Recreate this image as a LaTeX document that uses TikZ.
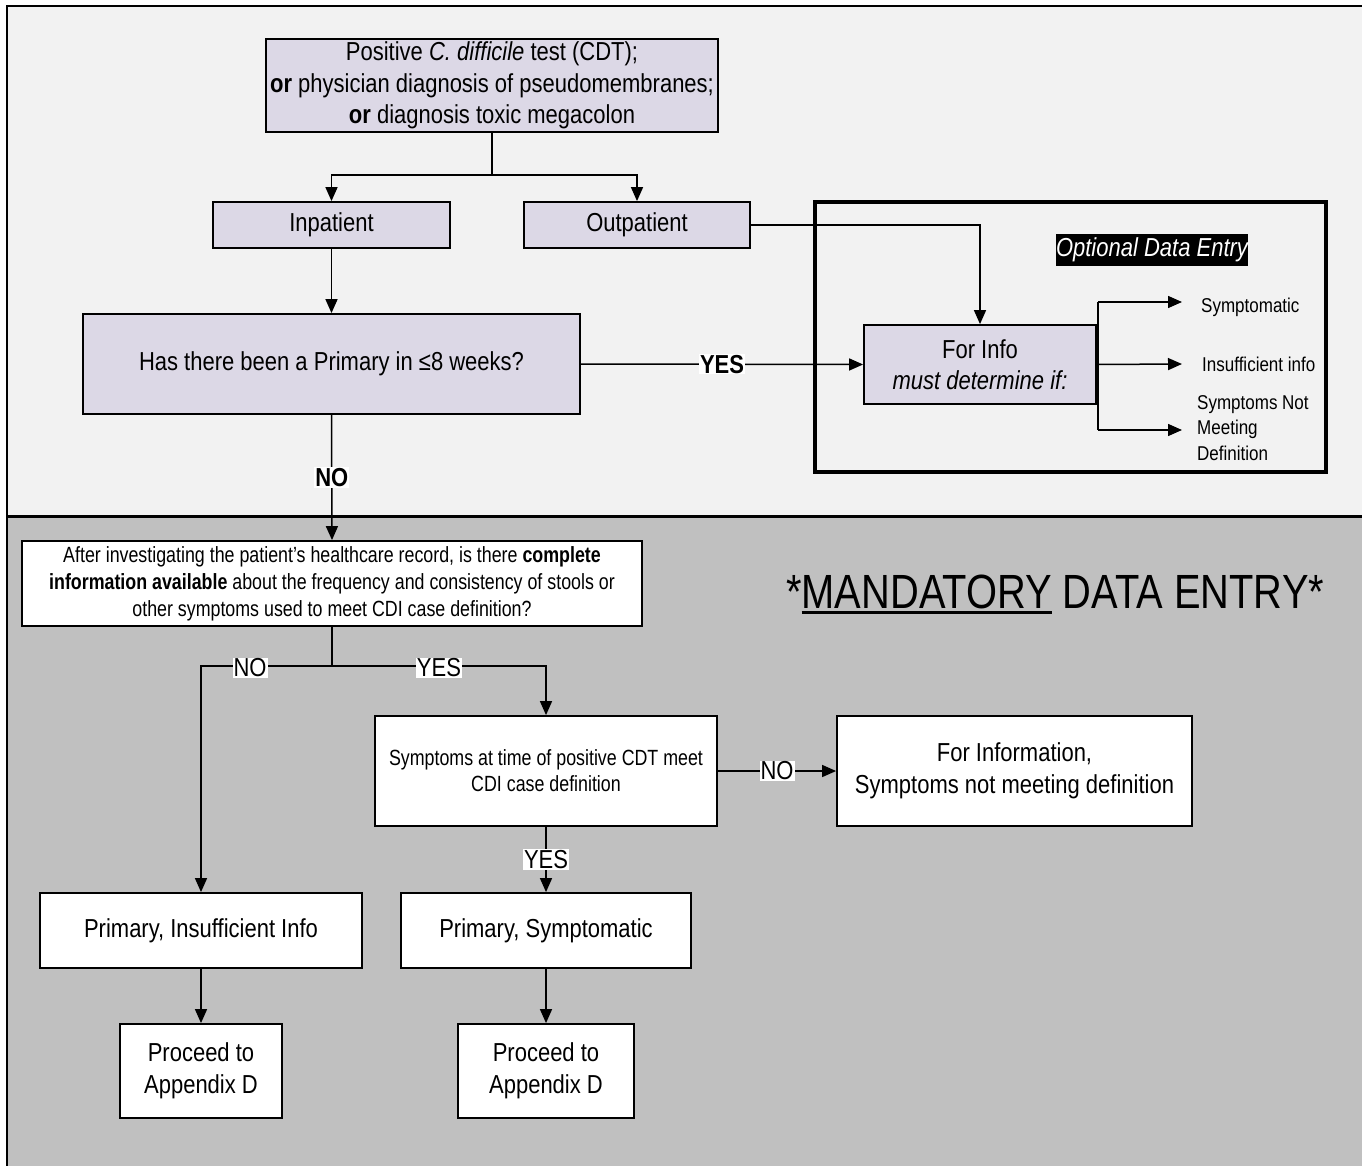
\documentclass[tikz,border=0pt]{standalone}
\usepackage{fontspec}
\setmainfont{Liberation Sans}[FakeStretch=0.846]
\newfontfamily\condA[FakeStretch=0.81]{Liberation Sans}
\newfontfamily\condS[FakeStretch=0.85]{Liberation Sans}
\newfontfamily\condM[FakeStretch=0.83]{Liberation Sans}
\usetikzlibrary{arrows.meta}
\definecolor{lav}{HTML}{DCD8E6}
\definecolor{topbg}{HTML}{F2F2F2}
\definecolor{botbg}{HTML}{C0C0C0}
\begin{document}
\begin{tikzpicture}[x=1pt,y=-1pt,
  box/.style={draw=black, line width=1.8pt, inner sep=0pt, align=center, font=\fontsize{26}{31.5}\selectfont},
  lavbox/.style={box, fill=lav},
  whbox/.style={box, fill=white},
  conn/.style={line width=1.5pt, -{Triangle[length=14pt,width=12pt]}},
  plainline/.style={line width=1.5pt},
  lbl/.style={fill=white, inner sep=1pt, font=\fontsize{26}{28}\selectfont},
  blbl/.style={fill=white, inner sep=1pt, font=\bfseries\fontsize{26}{28}\selectfont},
  side/.style={inner sep=0pt, anchor=west, align=left, font={\condS\fontsize{20}{25.5}\selectfont}},
]
\useasboundingbox (0,0) rectangle (1362,1166);
% backgrounds
\fill[white] (0,0) rectangle (1362,1166);
\fill[topbg] (7,6) rectangle (1362,516);
\fill[botbg] (7,516) rectangle (1362,1166);
\draw[line width=2.5pt] (7,1166) -- (7,6) -- (1362,6);
\draw[line width=3pt] (7,516) -- (1362,516);

% optional frame
\node[draw=black, line width=3.5pt, minimum width=511pt, minimum height=270pt, inner sep=0pt] (opt) at (1070.5,337) {};
\node[fill=black, text=white, inner sep=0pt, minimum width=190pt, minimum height=32pt, font=\itshape\fontsize{26}{28}\selectfont] (optlbl) at (1152,250) {Optional Data Entry};

% nodes
\node[lavbox, minimum width=452pt, minimum height=93pt] (top) at (492,85.5)
  {Positive \textit{C. difficile} test (CDT);\\ \textbf{or} physician diagnosis of pseudomembranes;\\ \textbf{or} diagnosis toxic megacolon};
\node[lavbox, minimum width=237pt, minimum height=46pt] (inp) at (331.5,225) {Inpatient};
\node[lavbox, minimum width=226pt, minimum height=46pt] (outp) at (637,225) {Outpatient};
\node[lavbox, minimum width=497pt, minimum height=100pt] (prim) at (331.5,364) {Has there been a Primary in ≤8 weeks?};
\node[lavbox, minimum width=232pt, minimum height=79pt] (forinfo) at (980,364.5) {For Info\\ \textit{must determine if:}};

\node[whbox, minimum width=620pt, minimum height=85pt, font={\condA\fontsize{22}{27}\selectfont}] (q) at (332,583.5)
  {After investigating the patient’s healthcare record, is there \textbf{complete}\\ \textbf{information available} about the frequency and consistency of stools or\\ other symptoms used to meet CDI case definition?};
\node[whbox, minimum width=342pt, minimum height=110pt, font={\condA\fontsize{22}{26}\selectfont}] (sym) at (546,771)
  {Symptoms at time of positive CDT meet\\ CDI case definition};
\node[whbox, minimum width=355pt, minimum height=110pt] (finfo) at (1014.5,771) {For Information,\\ Symptoms not meeting definition};
\node[whbox, minimum width=322pt, minimum height=75pt] (pii) at (201,930.5) {Primary, Insufficient Info};
\node[whbox, minimum width=290pt, minimum height=75pt] (ps) at (546,930.5) {Primary, Symptomatic};
\node[whbox, minimum width=162pt, minimum height=94pt] (pr1) at (201,1071) {Proceed to\\ Appendix D};
\node[whbox, minimum width=176pt, minimum height=94pt] (pr2) at (546,1071) {Proceed to\\ Appendix D};

% connectors top
\coordinate (j1) at (492,175);
\draw[plainline] (top.south) -- (j1);
\draw[conn] (j1) -| (inp.north);
\draw[conn] (j1) -| (outp.north);
\draw[conn] (outp.east) -| (forinfo.north);
\draw[conn] (inp.south) -- (prim.north);
\draw[conn] (prim.east) -- node[blbl] {YES} (forinfo.west);
\draw[conn] (prim.south) -- node[blbl] {NO} (q.north);

% optional branches
\coordinate (b1) at (1098,302);
\coordinate (b3) at (1098,430);
\coordinate (t1) at (1182,302);
\coordinate (t2) at (1182,364);
\coordinate (t3) at (1182,430);
\draw[plainline] (b1) -- (b3);
\draw[conn] (b1) -- (t1);
\draw[conn] (forinfo.east) -- (t2);
\draw[conn] (b3) -- (t3);
\node[side] (s1) at (1201,307) {Symptomatic};
\node[side] (s2) at (1202,364) {Insufficient info};
\node[side] (s3) at (1197,428) {Symptoms Not\\ Meeting\\ Definition};

% connectors bottom
\coordinate (j2) at (332,666);
\draw[plainline] (q.south) -- (j2);
\draw[conn] (j2) -| (pii.north);
\draw[conn] (j2) -| (sym.north);
\node[lbl] (nol) at (250,668) {NO};
\node[lbl] (yesl) at (439,668) {YES};
\draw[conn] (sym.east) -- node[lbl] {NO} (finfo.west);
\draw[conn] (sym.south) -- node[lbl] {YES} (ps.north);
\draw[conn] (pii.south) -- (pr1.north);
\draw[conn] (ps.south) -- (pr2.north);

% mandatory title
\node[inner sep=0pt, anchor=base west, font={\condM\fontsize{48}{50}\selectfont}] (mand) at (786,608)
  {*{\setbox0\hbox{MANDATORY}\rlap{\rule[-6pt]{\wd0}{3pt}}\box0} DATA ENTRY*};
\end{tikzpicture}
\end{document}
